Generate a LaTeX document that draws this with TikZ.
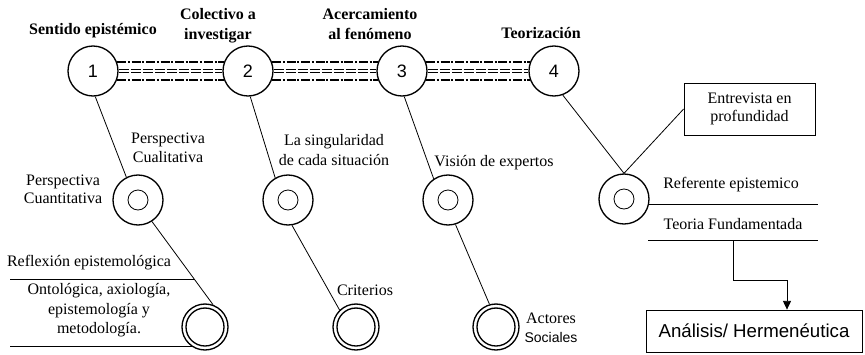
\documentclass[tikz,border=0pt]{standalone}
\usepackage{fontspec}
\setmainfont{Liberation Serif}
\setsansfont{Liberation Sans}
\usetikzlibrary{calc, arrows.meta}

\begin{document}
\begin{tikzpicture}[x=0.75pt, y=-0.75pt]
	\tikzset{
		every node/.style = {inner sep=0pt, font=\fontsize{12}{14.5}\selectfont},
		stage/.style = {circle, draw, line width=1pt, minimum size=37.5pt, font=\sffamily\fontsize{13.5}{16}\selectfont},
		stagetitle/.style = {align=center, font=\bfseries\fontsize{12}{15}\selectfont},
		donut/.style = {circle, draw, line width=1pt, minimum size=37.5pt},
		hole/.style = {circle, draw, line width=0.6pt, minimum size=15pt},
		ring/.style = {circle, draw, line width=1pt, minimum size=34.5pt},
		ringin/.style = {circle, draw, line width=1pt, minimum size=28.5pt},
		txt/.style = {align=center},
		link/.style = {line width=0.6pt},
		dashdot/.style = {line width=1.7pt, dash pattern=on 6.75pt off 1.3pt on 1.5pt off 1.3pt},
		dashdbl/.style = {line width=0.75pt, double, double distance=1pt, dash pattern=on 7.5pt off 1.5pt},
		textbox/.style = {draw, line width=0.6pt, align=center},
	}
	\useasboundingbox (0,0) rectangle (865,354);

	% etapas
	\node[stage] (c1) at (93,71) {1};
	\node[stage] (c2) at (248,71) {2};
	\node[stage] (c3) at (402,71) {3};
	\node[stage] (c4) at (554,71) {4};

	\node[stagetitle] (t1) at (93,31) {Sentido epistémico};
	\node[stagetitle] (t2) at (218,26) {Colectivo a\\investigar};
	\node[stagetitle] (t3) at (370,24.5) {Acercamiento\\al fenómeno};
	\node[stagetitle] (t4) at (541,33) {Teorización};

	\foreach \a/\b in {c1/c2, c2/c3, c3/c4} {
		\draw[dashdot] (\a.20) -- (\b.160);
		\draw[dashdbl] (\a.east) -- (\b.west);
		\draw[dashdot] (\a.-20) -- (\b.200);
	}

	% nivel intermedio y final
	\foreach \n/\x/\y in {d1/138/200, d2/288/200, d3/448/200, d4/624/199} {
		\node[donut] (\n) at (\x,\y) {};
		\node[hole] at (\n) {};
	}
	\foreach \n/\x in {e1/205, e2/356, e3/496} {
		\node[ring] (\n) at (\x,327) {};
		\node[ringin] at (\n) {};
	}

	\draw[link] (c1.-85) -- (d1.117);
	\draw[link] (c2.-85) -- (d2.120);
	\draw[link] (c3.-85) -- (d3.124);
	\draw[link] (c4.-70) -- (d4.north);
	\draw[link] (d1.-57) -- (e1.70);
	\draw[link] (d2.-81) -- (e2.134);
	\draw[link] (d3.-73) -- (e3.106);

	% textos
	\node[txt, font=\fontsize{12}{14.25}\selectfont] (l1) at (168,148) {Perspectiva\\Cualitativa};
	\node[txt, font=\fontsize{12}{13.5}\selectfont] (l2) at (63,189) {Perspectiva\\Cuantitativa};
	\node[txt, font=\fontsize{12}{15}\selectfont] (l3) at (334,150) {La singularidad\\de cada situación};
	\node (l4) at (494,163) {Visión de expertos};
	\node (l5) at (89,263) {Reflexión epistemológica};
	\node[txt, font=\fontsize{12}{14.6}\selectfont] (l6) at (99,310.5) {Ontológica, axiología,\\epistemología y\\metodología.};
	\node (l7) at (365,290) {Criterios};
	\node[txt, font=\fontsize{12}{14}\selectfont] (l8) at (551,327.5) {Actores\\{\sffamily\fontsize{10.5}{12}\selectfont Sociales}};
	\node (l9) at (731,185) {Referente epistemico};
	\node (l10) at (733,224) {Teoria Fundamentada};

	\coordinate (rl) at (10,279);
	\coordinate (rx) at ($(d1.-57)!0.687!(e1.70)$);
	\draw[link] (rl) -- (rl -| rx);
	\coordinate (ml) at (10,346);
	\draw[link] (e1.236) -- (e1.236 -| ml);

	% teorizacion
	\node[textbox, minimum width=98.25pt, minimum height=39pt, font=\fontsize{12}{13.5}\selectfont] (b1) at (749.5,109) {Entrevista en\\profundidad};
	\draw[link] (b1.west) -- (d4.north);
	\node[textbox, minimum width=162pt, minimum height=31.5pt, font=\sffamily\fontsize{14}{16}\selectfont] (b2) at (754,331) {Análisis/ Hermenéutica};

	\coordinate (hr) at (818,0);
	\draw[link] (d4.-13) -- (d4.-13 -| hr);
	\coordinate (tl) at (648,240);
	\coordinate (tr) at (818,240);
	\draw[link] (tl) -- (tr);
	\coordinate (k1) at (733,240);
	\draw[link, -{Triangle[width=6pt, length=6.5pt]}] (k1) -- ++(0,40) -| ([xshift=24.75pt]b2.north);

\end{tikzpicture}
\end{document}
